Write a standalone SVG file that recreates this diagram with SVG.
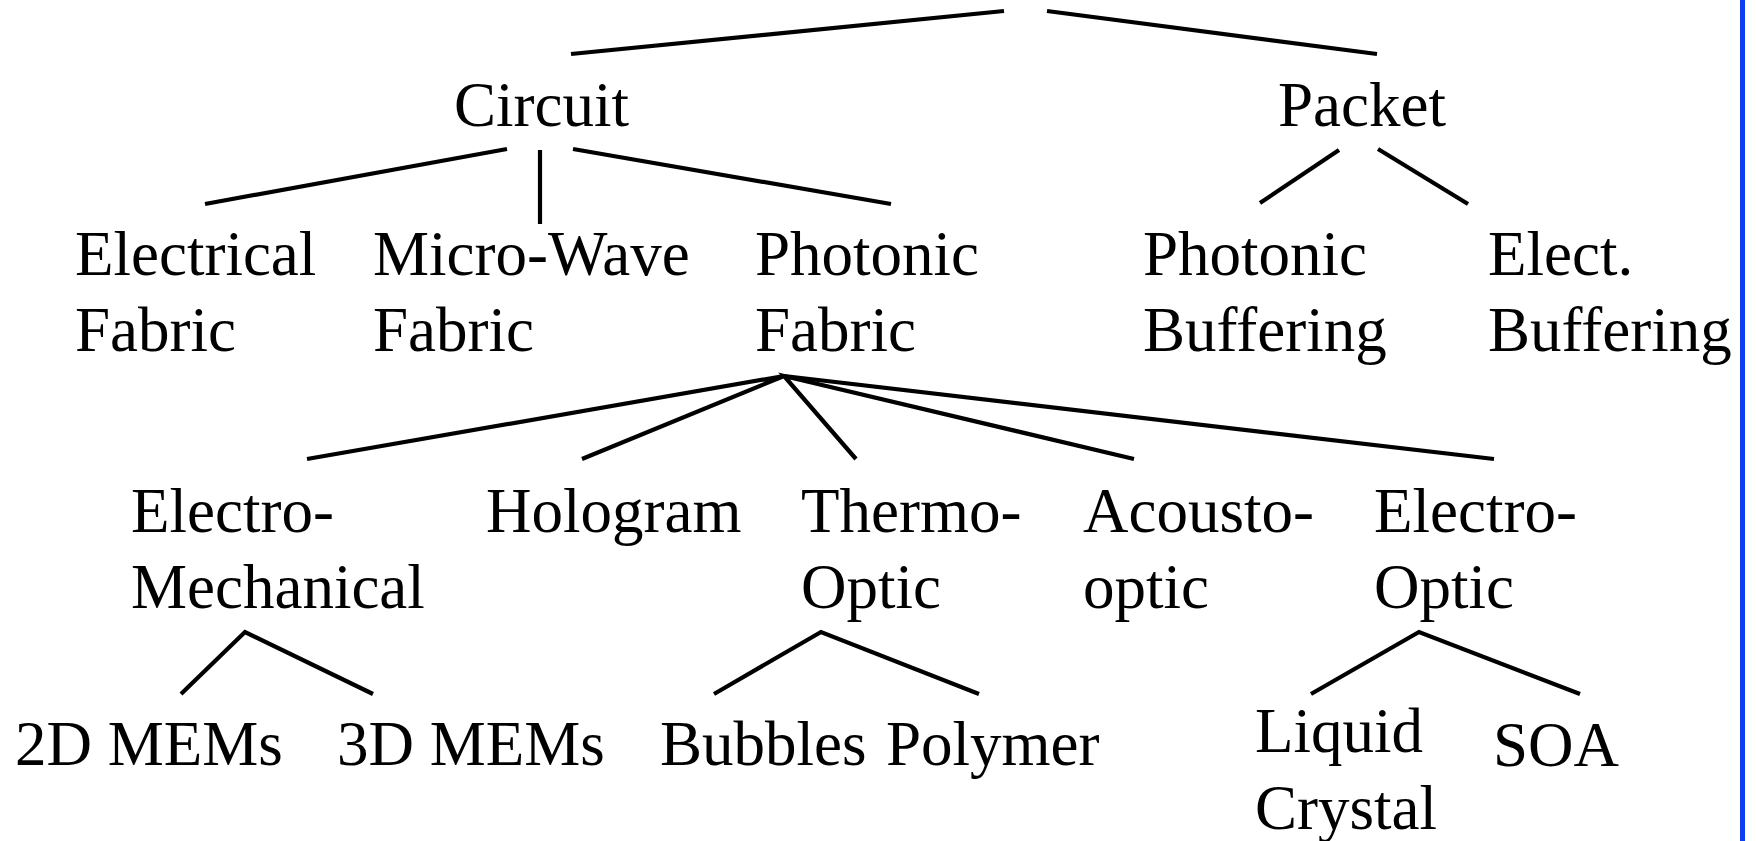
<svg xmlns="http://www.w3.org/2000/svg" width="1756" height="841" viewBox="0 0 1756 841">
<style>
text{font-family:"Liberation Serif","Times New Roman",serif;font-size:63px;fill:#000}
.c line,.c polyline{stroke:#000;stroke-width:4.2;fill:none;stroke-linejoin:miter}
</style>
<rect width="1756" height="841" fill="#fff"/>
<g class="c" id="connectors">
<line x1="571" y1="54" x2="1004" y2="11"/>
<line x1="1047" y1="11" x2="1377" y2="54"/>
<line x1="205" y1="204" x2="507" y2="149"/>
<line x1="540" y1="150" x2="540" y2="224"/>
<line x1="573" y1="149" x2="891" y2="204"/>
<line x1="1339" y1="150" x2="1260" y2="203"/>
<line x1="1378" y1="149" x2="1468" y2="204"/>
<polyline points="307,459 784,376 582,459"/>
<polyline points="856,459 784,376 1134,459"/>
<polyline points="784,376 1494,459"/>
<polyline points="181,694 245,632 373,694"/>
<polyline points="714,694 821,632 979,694"/>
<polyline points="1311,694 1419,632 1580,694"/>
</g>
<g id="circuit"><text x="454" y="126">Circuit</text></g>
<g id="packet"><text x="1278" y="126">Packet</text></g>
<g id="electrical-fabric"><text x="75" y="275">Electrical</text><text x="75" y="351">Fabric</text></g>
<g id="microwave-fabric"><text x="373" y="275">Micro-Wave</text><text x="373" y="351">Fabric</text></g>
<g id="photonic-fabric"><text x="755" y="275">Photonic</text><text x="755" y="351">Fabric</text></g>
<g id="photonic-buffering"><text x="1143" y="275">Photonic</text><text x="1143" y="351">Buffering</text></g>
<g id="elect-buffering"><text x="1488" y="275">Elect.</text><text x="1488" y="351">Buffering</text></g>
<g id="electro-mechanical"><text x="131" y="532">Electro-</text><text x="131" y="608">Mechanical</text></g>
<g id="hologram"><text x="486" y="532">Hologram</text></g>
<g id="thermo-optic"><text x="801" y="532">Thermo-</text><text x="801" y="608">Optic</text></g>
<g id="acousto-optic"><text x="1083" y="532">Acousto-</text><text x="1083" y="608">optic</text></g>
<g id="electro-optic"><text x="1374" y="532">Electro-</text><text x="1374" y="608">Optic</text></g>
<g id="mems-2d"><text x="15" y="765">2D MEMs</text></g>
<g id="mems-3d"><text x="337" y="765">3D MEMs</text></g>
<g id="bubbles"><text x="660" y="765">Bubbles</text></g>
<g id="polymer"><text x="886" y="765">Polymer</text></g>
<g id="liquid-crystal"><text x="1255" y="752">Liquid</text><text x="1255" y="829">Crystal</text></g>
<g id="soa"><text x="1493" y="766">SOA</text></g>
<line x1="1742.5" y1="0" x2="1742.5" y2="841" stroke="#0b3ff0" stroke-width="5"/>
</svg>
